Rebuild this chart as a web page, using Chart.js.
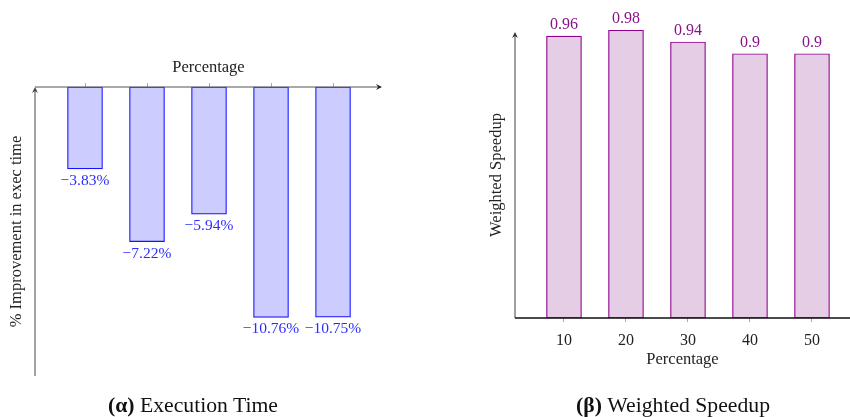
<!DOCTYPE html>
<html>
<head>
<meta charset="utf-8">
<script src="https://cdn.jsdelivr.net/npm/chart.js@4.4.1/dist/chart.umd.min.js"></script>
<style>
  html, body { margin: 0; padding: 0; background: #fff; }
  body { width: 850px; height: 417px; position: relative; overflow: hidden; font-family: "Liberation Serif", serif; }
  .panel { position: absolute; top: 0; width: 425px; height: 417px; }
  #leftPanel { left: 0; }
  #rightPanel { left: 425px; }
  .caption { position: absolute; top: 392px; font-size: 21.7px; line-height: 26px; color: #111; white-space: nowrap; transform: translateX(-50%); }
  .caption b { font-weight: bold; }
</style>
</head>
<body>
<div class="panel" id="leftPanel"><canvas id="execChart"></canvas></div>
<div class="panel" id="rightPanel"><canvas id="speedupChart"></canvas></div>
<div class="caption" style="left:193px"><b>(α)</b> Execution Time</div>
<div class="caption" style="left:673px"><b>(β)</b> Weighted Speedup</div>
<script>
// Percentage of the workload that was changed
const percentages = [10, 20, 30, 40, 50];
// Change in execution time (%)
const execTimeChange = [-3.83, -7.22, -5.94, -10.76, -10.75];
// Weighted speedup
const weightedSpeedup = [0.96, 0.98, 0.94, 0.9, 0.9];

const SERIF = '"Liberation Serif", "Times New Roman", serif';
Chart.defaults.font.family = SERIF;
Chart.defaults.color = '#222';
Chart.defaults.animation = false;

// small stealth-style arrow head
function arrowHead(ctx, x, y, dir, color) {
  const L = 6, W = 3;
  ctx.save();
  ctx.fillStyle = color;
  ctx.translate(x, y);
  if (dir === 'up') ctx.rotate(-Math.PI / 2);
  ctx.beginPath();
  ctx.moveTo(0, 0);
  ctx.lineTo(-L, -W);
  ctx.lineTo(-L * 0.65, 0);
  ctx.lineTo(-L, W);
  ctx.closePath();
  ctx.fill();
  ctx.restore();
}

function line(ctx, x1, y1, x2, y2, color, w) {
  ctx.save();
  ctx.strokeStyle = color;
  ctx.lineWidth = w;
  ctx.beginPath();
  ctx.moveTo(x1, y1);
  ctx.lineTo(x2, y2);
  ctx.stroke();
  ctx.restore();
}

// axis lines with arrows, plus value labels on each bar
function axesAndLabels(cfg) {
  return {
    id: 'axesAndLabels',
    afterDatasetsDraw(chart) {
      const ctx = chart.ctx;
      const a = chart.chartArea;
      cfg.axes(ctx, a);
      const meta = chart.getDatasetMeta(0);
      const values = chart.data.datasets[0].data.map(d => d.y);
      ctx.save();
      ctx.font = cfg.labelFont;
      ctx.fillStyle = cfg.labelColor;
      ctx.textAlign = 'center';
      ctx.textBaseline = 'middle';
      meta.data.forEach((el, i) => {
        const v = values[i];
        const y = v < 0 ? el.y + cfg.gap : el.y - cfg.gap;
        ctx.fillText(cfg.format(v), el.x, y);
      });
      ctx.restore();
    }
  };
}

const tickValues = s => { s.ticks = percentages.map(v => ({ value: v })); };

// (α) Execution time chart
new Chart(document.getElementById('execChart'), {
  type: 'bar',
  data: {
    datasets: [{
      data: percentages.map((p, i) => ({ x: p, y: execTimeChange[i] })),
      backgroundColor: 'rgb(204,204,255)',
      borderColor: 'rgb(20,20,255)',
      borderWidth: 1.2,
      borderSkipped: false,
      barThickness: 35,
      clip: false
    }]
  },
  options: {
    responsive: true,
    maintainAspectRatio: false,
    layout: { padding: { left: 0, top: 50, right: 43, bottom: 41 } },
    plugins: { legend: { display: false }, tooltip: { enabled: false } },
    scales: {
      x: {
        type: 'linear',
        position: 'top',
        offset: false,
        min: 1.935,
        max: 57.9,
        afterBuildTicks: tickValues,
        afterFit: s => { s.height = 37; },
        ticks: { display: false },
        grid: { display: true, offset: false, drawOnChartArea: false, drawTicks: true, tickLength: 4, color: '#aaa', lineWidth: 1 },
        border: { display: false },
        title: { display: true, text: 'Percentage', color: '#222', font: { size: 16.5 }, padding: { top: 8, bottom: 0 } }
      },
      y: {
        min: -13.5,
        max: 0,
        afterFit: s => { s.width = 35; },
        ticks: { display: false },
        grid: { display: false },
        border: { display: false },
        title: { display: true, text: '% Improvement in exec time', color: '#222', font: { size: 16.5 }, padding: { top: 7, bottom: 0 } }
      }
    }
  },
  plugins: [axesAndLabels({
    labelFont: '15.5px ' + SERIF,
    labelColor: 'rgb(45,45,255)',
    gap: 12,
    format: v => '\u2212' + Math.abs(v).toFixed(2) + '%',
    axes: (ctx, a) => {
      line(ctx, a.left, a.bottom, a.left, a.top + 4, '#666', 1.2);
      arrowHead(ctx, a.left, a.top, 'up', '#444');
      line(ctx, a.left, a.top, a.right - 4, a.top, '#555', 1.2);
      arrowHead(ctx, a.right, a.top, 'right', '#222');
    }
  })]
});

// (β) Weighted speedup chart
new Chart(document.getElementById('speedupChart'), {
  type: 'bar',
  data: {
    datasets: [{
      data: percentages.map((p, i) => ({ x: p, y: weightedSpeedup[i] })),
      backgroundColor: 'rgb(230,205,230)',
      borderColor: 'rgb(140,0,140)',
      borderWidth: 1.2,
      borderSkipped: false,
      barThickness: 35,
      clip: false
    }]
  },
  options: {
    responsive: true,
    maintainAspectRatio: false,
    layout: { padding: { left: 55, top: 32, right: 0, bottom: 39 } },
    plugins: { legend: { display: false }, tooltip: { enabled: false } },
    scales: {
      x: {
        type: 'linear',
        position: 'bottom',
        offset: false,
        min: 2.1,
        max: 56.13,
        afterBuildTicks: tickValues,
        afterFit: s => { s.height = 60; },
        ticks: { display: true, color: '#222', font: { size: 16 }, padding: 9, maxRotation: 0, autoSkip: false },
        grid: { display: true, offset: false, drawOnChartArea: false, drawTicks: true, tickLength: 4, color: '#aaa', lineWidth: 1 },
        border: { display: false },
        title: { display: true, text: 'Percentage', color: '#222', font: { size: 16.5 }, padding: { top: 0, bottom: 8 } }
      },
      y: {
        min: 0,
        max: 0.974,
        afterFit: s => { s.width = 35; },
        ticks: { display: false },
        grid: { display: false },
        border: { display: false },
        title: { display: true, text: 'Weighted Speedup', color: '#222', font: { size: 16.5 }, padding: { top: 7, bottom: 0 } }
      }
    }
  },
  plugins: [axesAndLabels({
    labelFont: '16px ' + SERIF,
    labelColor: 'rgb(135,20,135)',
    gap: 11,
    format: v => String(v),
    axes: (ctx, a) => {
      line(ctx, a.left, a.bottom, a.left, a.top + 4, '#777', 1.4);
      arrowHead(ctx, a.left, a.top, 'up', '#333');
      line(ctx, a.left, a.bottom, a.right + 2, a.bottom, '#111', 1.3);
    }
  })]
});
</script>
</body>
</html>
